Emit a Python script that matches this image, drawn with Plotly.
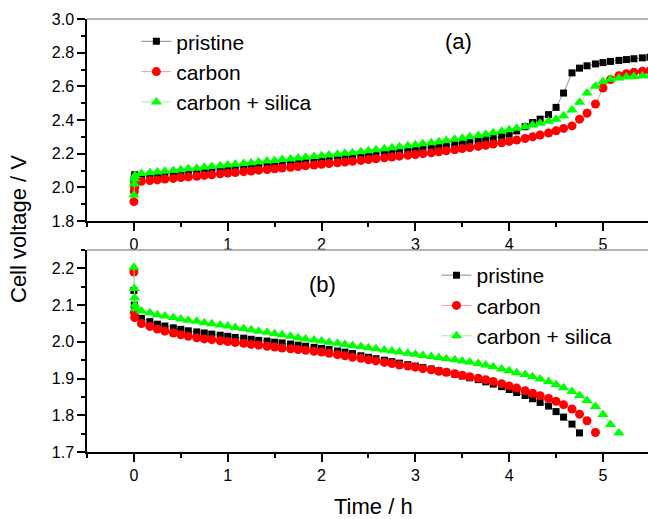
import plotly.graph_objects as go

# ---------------- data ----------------
series_names = ["pristine", "carbon", "carbon + silica"]

# sampling times (h) after the initial points at t = 0
T = [0.08, 0.17, 0.25, 0.33, 0.42, 0.50, 0.58, 0.67, 0.75, 0.83, 0.92, 1.00,
     1.08, 1.17, 1.25, 1.33, 1.42, 1.50, 1.58, 1.67, 1.75, 1.83, 1.92, 2.00,
     2.08, 2.17, 2.25, 2.33, 2.42, 2.50, 2.58, 2.67, 2.75, 2.83, 2.92, 3.00,
     3.08, 3.17, 3.25, 3.33, 3.42, 3.50, 3.58, 3.67, 3.75, 3.83, 3.92, 4.00,
     4.08, 4.17, 4.25, 4.33, 4.42, 4.50, 4.58, 4.67, 4.75, 4.83, 4.92, 5.00,
     5.08, 5.17, 5.25, 5.33, 5.42, 5.50]

# (a) charge
a_t0_pristine = [0.0, 0.004, 0.008]
a_v0_pristine = [2.03, 2.06, 2.075]
a_t0_carbon = [0.0, 0.004, 0.008, 0.012]
a_v0_carbon = [1.915, 1.975, 2.00, 2.02]
a_t0_silica = [0.0, 0.004, 0.008, 0.012]
a_v0_silica = [1.955, 2.02, 2.05, 2.07]

a_pristine = [2.065, 2.069, 2.074, 2.078, 2.083, 2.087, 2.092, 2.096, 2.101, 2.105, 2.110, 2.114,
              2.118, 2.123, 2.127, 2.132, 2.136, 2.141, 2.145, 2.150, 2.154, 2.159, 2.163, 2.168,
              2.172, 2.177, 2.181, 2.186, 2.190, 2.195, 2.200, 2.205, 2.210, 2.215, 2.220, 2.226,
              2.231, 2.237, 2.243, 2.249, 2.255, 2.262, 2.269, 2.276, 2.284, 2.292, 2.303, 2.316,
              2.335, 2.360, 2.385, 2.405, 2.432, 2.475, 2.560, 2.680, 2.708, 2.722, 2.733, 2.741,
              2.748, 2.754, 2.759, 2.764, 2.769, 2.773]
a_carbon = [2.036, 2.040, 2.044, 2.049, 2.053, 2.058, 2.062, 2.066, 2.071, 2.075, 2.080, 2.084,
            2.088, 2.093, 2.097, 2.102, 2.106, 2.110, 2.115, 2.119, 2.124, 2.128, 2.132, 2.137,
            2.141, 2.146, 2.150, 2.155, 2.160, 2.165, 2.170, 2.175, 2.180, 2.185, 2.190, 2.195,
            2.200, 2.205, 2.211, 2.217, 2.223, 2.230, 2.236, 2.243, 2.250, 2.257, 2.265, 2.273,
            2.281, 2.290, 2.300, 2.311, 2.323, 2.336, 2.350, 2.365, 2.405, 2.440, 2.495, 2.590,
            2.640, 2.663, 2.675, 2.683, 2.689, 2.693]
a_silica = [2.082, 2.087, 2.091, 2.096, 2.100, 2.105, 2.110, 2.114, 2.119, 2.123, 2.128, 2.133,
            2.137, 2.142, 2.146, 2.151, 2.156, 2.160, 2.165, 2.169, 2.174, 2.179, 2.183, 2.188,
            2.192, 2.197, 2.202, 2.206, 2.211, 2.217, 2.223, 2.229, 2.235, 2.241, 2.247, 2.253,
            2.259, 2.265, 2.271, 2.278, 2.285, 2.292, 2.300, 2.308, 2.316, 2.324, 2.333, 2.342,
            2.351, 2.360, 2.370, 2.380, 2.392, 2.405, 2.425, 2.459, 2.505, 2.560, 2.600, 2.628,
            2.642, 2.650, 2.655, 2.659, 2.662, 2.664]

# (b) discharge
b_t0_pristine = [0.0, 0.004, 0.008]
b_v0_pristine = [2.14, 2.10, 2.075]
b_t0_carbon = [0.0, 0.004, 0.008]
b_v0_carbon = [2.19, 2.08, 2.066]
b_t0_silica = [0.0, 0.004, 0.008, 0.012, 0.016]
b_v0_silica = [2.203, 2.145, 2.12, 2.10, 2.09]

b_pristine = [2.064, 2.055, 2.048, 2.043, 2.038, 2.034, 2.030, 2.027, 2.024, 2.021, 2.018, 2.015,
              2.012, 2.010, 2.007, 2.004, 2.002, 1.999, 1.997, 1.994, 1.991, 1.988, 1.985, 1.982,
              1.979, 1.975, 1.972, 1.968, 1.962, 1.958, 1.954, 1.950, 1.946, 1.942, 1.938, 1.934,
              1.930, 1.926, 1.921, 1.917, 1.912, 1.907, 1.902, 1.897, 1.891, 1.885, 1.878, 1.870,
              1.862, 1.854, 1.845, 1.835, 1.825, 1.810, 1.795, 1.776, 1.752]
b_carbon = [2.050, 2.042, 2.035, 2.029, 2.024, 2.019, 2.015, 2.011, 2.008, 2.006, 2.003, 2.001,
            1.998, 1.996, 1.993, 1.991, 1.988, 1.986, 1.983, 1.981, 1.979, 1.977, 1.974, 1.972,
            1.969, 1.965, 1.962, 1.958, 1.955, 1.951, 1.948, 1.944, 1.941, 1.937, 1.934, 1.931,
            1.927, 1.924, 1.920, 1.917, 1.913, 1.909, 1.905, 1.901, 1.897, 1.892, 1.886, 1.880,
            1.874, 1.867, 1.860, 1.853, 1.846, 1.838, 1.829, 1.817, 1.803, 1.785, 1.753]
b_silica = [2.084, 2.079, 2.074, 2.070, 2.066, 2.062, 2.059, 2.056, 2.052, 2.049, 2.046, 2.043,
            2.039, 2.036, 2.033, 2.029, 2.026, 2.022, 2.019, 2.015, 2.011, 2.008, 2.005, 2.002,
            1.999, 1.996, 1.993, 1.990, 1.987, 1.984, 1.981, 1.978, 1.975, 1.972, 1.969, 1.966,
            1.963, 1.960, 1.957, 1.954, 1.951, 1.948, 1.945, 1.941, 1.937, 1.932, 1.926, 1.921,
            1.916, 1.911, 1.905, 1.899, 1.892, 1.884, 1.875, 1.865, 1.854, 1.840, 1.824, 1.802,
            1.775, 1.752]

x_ticks = [0, 1, 2, 3, 4, 5]

# ---------------- styles ----------------
marker_colors = ["#000000", "#ff0000", "#00ff00"]
line_colors = ["#8a8a8a", "#ff9a9a", "#8cff8c"]
symbols = ["square", "circle", "triangle-up"]
sizes = [7, 9, 10]
FONT = "Liberation Sans, Arial, sans-serif"

fig = go.Figure()

a_sets = [(a_t0_pristine, a_v0_pristine, a_pristine),
          (a_t0_carbon, a_v0_carbon, a_carbon),
          (a_t0_silica, a_v0_silica, a_silica)]
b_sets = [(b_t0_pristine, b_v0_pristine, b_pristine),
          (b_t0_carbon, b_v0_carbon, b_carbon),
          (b_t0_silica, b_v0_silica, b_silica)]

for i, (t0, v0, v) in enumerate(a_sets):
    fig.add_trace(go.Scatter(
        x=t0 + T[:len(v)], y=v0 + v, mode="lines+markers", name=series_names[i],
        line=dict(color=line_colors[i], width=1),
        marker=dict(symbol=symbols[i], size=sizes[i], color=marker_colors[i], line=dict(width=0)),
        xaxis="x", yaxis="y", legend="legend"))

for i, (t0, v0, v) in enumerate(b_sets):
    fig.add_trace(go.Scatter(
        x=t0 + T[:len(v)], y=v0 + v, mode="lines+markers", name=series_names[i],
        line=dict(color=line_colors[i], width=1),
        marker=dict(symbol=symbols[i], size=sizes[i], color=marker_colors[i], line=dict(width=0)),
        xaxis="x2", yaxis="y2", legend="legend2"))

axis_common = dict(showline=True, linecolor="black", linewidth=1.5, ticks="outside",
                   ticklen=8, tickwidth=1.5, tickcolor="black", showgrid=False, zeroline=False,
                   tickfont=dict(family=FONT, size=16, color="black"))

fig.update_layout(
    width=648, height=519,
    margin=dict(l=87, r=0, t=19, b=67),
    paper_bgcolor="white", plot_bgcolor="white",
    font=dict(family=FONT, color="black"),
    xaxis=dict(domain=[0, 1], range=[-0.5, 5.48], anchor="y", tickvals=x_ticks,
               minor=dict(ticks="outside", ticklen=4, tickwidth=1.5, dtick=0.5, tick0=0, tickcolor="black"),
               **axis_common),
    yaxis=dict(domain=[0.5335, 1], range=[1.8, 3.0], anchor="x", dtick=0.2, tickformat=".1f",
               minor=dict(ticks="outside", ticklen=4, tickwidth=1.5, dtick=0.1, tickcolor="black"),
               **axis_common),
    xaxis2=dict(domain=[0, 1], range=[-0.5, 5.48], anchor="y2", tickvals=x_ticks,
                minor=dict(ticks="outside", ticklen=4, tickwidth=1.5, dtick=0.5, tick0=0, tickcolor="black"),
                **axis_common),
    yaxis2=dict(domain=[0, 0.4665], range=[1.7, 2.25], anchor="x2", dtick=0.1, tickformat=".1f",
                minor=dict(ticks="outside", ticklen=4, tickwidth=1.5, dtick=0.05, tickcolor="black"),
                **axis_common),
    legend=dict(x=0.088, y=0.995, xanchor="left", yanchor="top", bgcolor="rgba(0,0,0,0)",
                font=dict(family=FONT, size=21, color="black"), tracegroupgap=0),
    legend2=dict(x=0.623, y=0.455, xanchor="left", yanchor="top", bgcolor="rgba(0,0,0,0)",
                 font=dict(family=FONT, size=21, color="black"), tracegroupgap=0),
    showlegend=True,
    shapes=[
        dict(type="line", xref="x domain", yref="y domain", x0=0, x1=1, y0=1, y1=1,
             line=dict(color="#9a9a9a", width=1.5)),
        dict(type="line", xref="x2 domain", yref="y2 domain", x0=0, x1=1, y0=1, y1=1,
             line=dict(color="#9a9a9a", width=1.5)),
    ],
    annotations=[
        dict(text="Cell voltage / V", xref="paper", yref="paper", x=-0.123, y=0.515,
             xanchor="center", yanchor="middle",
             textangle=-90, showarrow=False, font=dict(family=FONT, size=22, color="black")),
        dict(text="Time / h", xref="paper", yref="paper", x=0.51, y=-0.127,
             xanchor="center", yanchor="middle",
             showarrow=False, font=dict(family=FONT, size=22, color="black")),
        dict(text="(a)", xref="x", yref="y", x=3.46, y=2.864, showarrow=False,
             font=dict(family=FONT, size=22, color="black")),
        dict(text="(b)", xref="x2", yref="y2", x=2.01, y=2.155, showarrow=False,
             font=dict(family=FONT, size=22, color="black")),
    ],
)

fig.write_html("out.html")
